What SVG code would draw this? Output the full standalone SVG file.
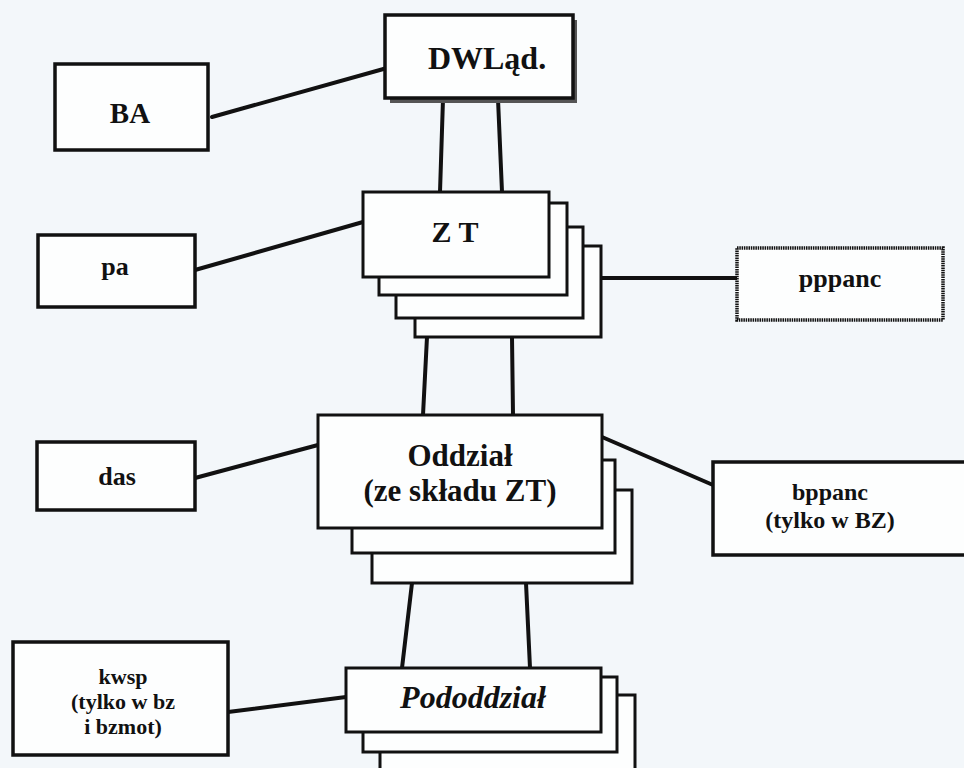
<svg xmlns="http://www.w3.org/2000/svg" width="964" height="768" viewBox="0 0 964 768">
<style>
.bg{fill:#f3f7fa}
.box{fill:#fdfefe;stroke:#111;stroke-width:3.5}
.stk{fill:#fdfefe;stroke:#111;stroke-width:3}
.shadow{fill:#555}
.con{stroke:#111;stroke-width:4;fill:none;stroke-linecap:round}
.t{font-family:"Liberation Serif","Times New Roman",serif;font-weight:bold;fill:#111;text-anchor:middle}
</style>
<rect class="bg" x="0" y="0" width="964" height="768"/>
<g id="connectors">
<line class="con" x1="212" y1="117" x2="387" y2="68"/>
<line class="con" x1="443" y1="99" x2="440" y2="192"/>
<line class="con" x1="498" y1="99" x2="502" y2="192"/>
<line class="con" x1="195" y1="270" x2="363" y2="222"/>
<line class="con" x1="602" y1="278" x2="737" y2="278"/>
<line class="con" x1="427" y1="337" x2="423" y2="415"/>
<line class="con" x1="512" y1="337" x2="513" y2="415"/>
<line class="con" x1="195" y1="478" x2="318" y2="445"/>
<line class="con" x1="602" y1="437" x2="713" y2="485"/>
<line class="con" x1="412" y1="583" x2="402" y2="668"/>
<line class="con" x1="526" y1="583" x2="530" y2="668"/>
<line class="con" x1="228" y1="712" x2="346" y2="697"/>
</g>
<g id="DWLad">
<rect class="shadow" x="390" y="20" width="187" height="83"/>
<rect class="box" x="385" y="15" width="188" height="83" stroke-width="4.5"/>
<text class="t" x="487" y="69" font-size="32">DWLąd.</text>
</g>
<g id="BA">
<rect class="box" x="55" y="64" width="153" height="86"/>
<text class="t" x="130" y="123" font-size="29">BA</text>
</g>
<g id="ZT">
<rect class="stk" x="415" y="246" width="186" height="91"/>
<rect class="stk" x="396" y="227" width="187" height="91"/>
<rect class="stk" x="379" y="203" width="188" height="92"/>
<rect class="stk" x="363" y="192" width="186" height="85"/>
<text class="t" x="455" y="242" font-size="30">Z T</text>
</g>
<g id="pa">
<rect class="box" x="38" y="235" width="157" height="72"/>
<text class="t" x="115" y="275" font-size="26">pa</text>
</g>
<g id="pppanc">
<rect class="box" x="737" y="248" width="206" height="72" stroke-dasharray="1.5 0.8"/>
<text class="t" x="840" y="287" font-size="26">pppanc</text>
</g>
<g id="Oddzial">
<rect class="stk" x="372" y="490" width="260" height="93"/>
<rect class="stk" x="352" y="460" width="263" height="93"/>
<rect class="stk" x="318" y="415" width="284" height="113"/>
<text class="t" x="460" y="466" font-size="31">Oddział</text>
<text class="t" x="460" y="501" font-size="31">(ze składu ZT)</text>
</g>
<g id="das">
<rect class="box" x="37" y="442" width="158" height="68"/>
<text class="t" x="117" y="485" font-size="26">das</text>
</g>
<g id="bppanc">
<rect class="box" x="713" y="462" width="270" height="93"/>
<text class="t" x="830" y="500" font-size="24">bppanc</text>
<text class="t" x="830" y="528" font-size="24">(tylko w BZ)</text>
</g>
<g id="Pododdzial">
<rect class="stk" x="380" y="695" width="255" height="90"/>
<rect class="stk" x="363" y="677" width="254" height="75"/>
<rect class="stk" x="346" y="668" width="255" height="64"/>
<text class="t" x="473" y="708" font-size="32" font-style="italic">Pododdział</text>
</g>
<g id="kwsp">
<rect class="box" x="13" y="642" width="215" height="113"/>
<text class="t" x="123" y="684" font-size="22">kwsp</text>
<text class="t" x="123" y="709" font-size="22">(tylko w bz</text>
<text class="t" x="123" y="734" font-size="22">i bzmot)</text>
</g>
</svg>
